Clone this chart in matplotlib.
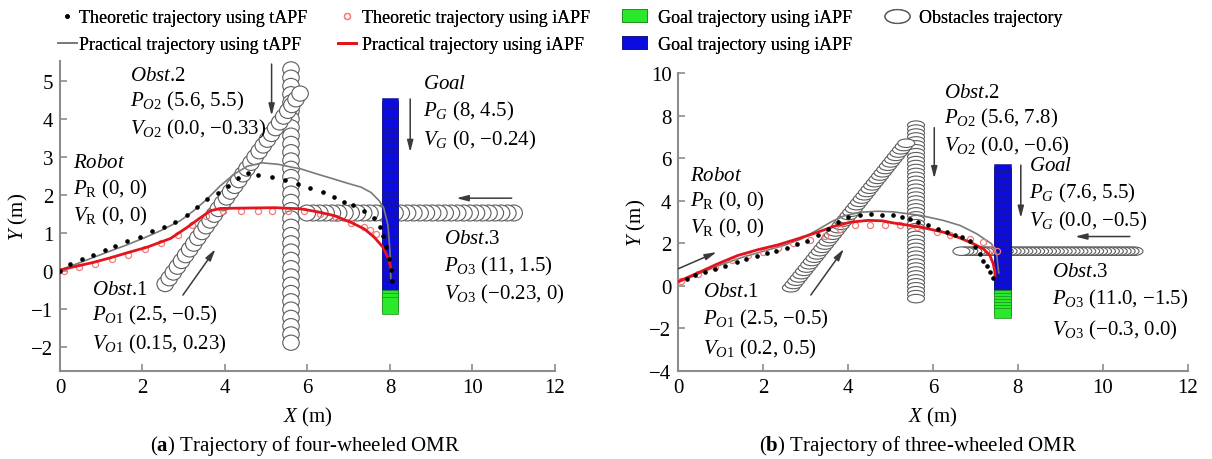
import numpy as np
import matplotlib
matplotlib.use("Agg")
import matplotlib.pyplot as plt
from matplotlib.patches import Circle, Rectangle, Patch
from matplotlib.lines import Line2D
from matplotlib.path import Path
from matplotlib.transforms import Affine2D

plt.rcParams.update({
    "font.family": "Liberation Serif",
    "mathtext.fontset": "custom",
    "mathtext.rm": "Liberation Serif",
    "mathtext.it": "Liberation Serif:italic",
    "mathtext.bf": "Liberation Serif:bold",
})

# ---------------- four-wheeled OMR (a) ----------------
a_theo_t_x = [0.0, 0.24, 0.53, 0.81, 1.09, 1.34, 1.62, 1.95, 2.23, 2.51, 2.80, 3.08, 3.33,
              3.57, 3.82, 4.08, 4.32, 4.55, 4.80, 5.13, 5.46, 5.76, 6.07, 6.37, 6.65, 6.89,
              7.10, 7.38, 7.62, 7.75, 7.83, 7.90, 7.97, 8.02, 8.05]
a_theo_t_y = [0.0, 0.18, 0.31, 0.41, 0.54, 0.66, 0.77, 0.90, 1.04, 1.16, 1.29, 1.47, 1.67,
              1.89, 2.05, 2.22, 2.44, 2.58, 2.52, 2.46, 2.39, 2.29, 2.17, 2.06, 1.94, 1.82,
              1.72, 1.58, 1.38, 1.14, 0.92, 0.62, 0.31, 0.02, -0.26]
a_prac_t_x = [0.0, 0.4, 0.81, 1.22, 1.62, 2.03, 2.43, 2.92, 3.24, 3.57, 3.89, 4.22, 4.54,
              4.90, 5.30, 5.60, 5.84, 6.25, 6.65, 6.98, 7.30, 7.54, 7.74, 7.85, 7.95, 8.00, 8.02]
a_prac_t_y = [0.02, 0.18, 0.35, 0.52, 0.68, 0.86, 1.05, 1.32, 1.58, 1.89, 2.24, 2.54, 2.75,
              2.84, 2.80, 2.73, 2.68, 2.54, 2.41, 2.30, 2.20, 2.06, 1.84, 1.65, 1.20, 0.50, -0.20]
a_prac_i_x = [0.0, 0.4, 0.81, 1.22, 1.62, 2.11, 2.68, 3.08, 3.41, 3.65, 3.89, 4.5, 5.2,
              5.84, 6.25, 6.65, 7.06, 7.38, 7.62, 7.83, 7.95, 8.03]
a_prac_i_y = [0.02, 0.12, 0.22, 0.34, 0.47, 0.62, 0.85, 1.14, 1.40, 1.58, 1.64, 1.65, 1.66,
              1.63, 1.55, 1.45, 1.27, 1.10, 0.88, 0.62, 0.35, 0.04]
a_theo_i_x = [0.1, 0.45, 0.85, 1.25, 1.65, 2.05, 2.45, 2.85, 3.2, 3.55, 3.95, 4.38, 4.79,
              5.15, 5.52, 5.92, 6.3, 6.7, 7.05, 7.38, 7.52, 7.66]
a_theo_i_y = [0.0, 0.1, 0.19, 0.3, 0.42, 0.56, 0.72, 0.93, 1.2, 1.45, 1.58, 1.58, 1.58,
              1.58, 1.58, 1.58, 1.5, 1.38, 1.25, 1.14, 1.08, 0.97]

# obstacles: start point, velocity; goal: start point, velocity
a_obst_start = [(2.55, -0.35), (5.6, 5.3), (11.0, 1.52)]
a_obst_vel = [(0.15, 0.23), (0.0, -0.33), (-0.23, 0.0)]
a_goal_start = (8.0, 4.32)
a_goal_vel = (0.0, -0.24)
a_duration = 21.8
a_steps = 34
a_goal_green_below = -0.73

# ---------------- three-wheeled OMR (b) ----------------
b_theo_t_x = [0.19, 0.39, 0.62, 0.86, 1.1, 1.37, 1.6, 1.85, 2.08, 2.31, 2.56, 2.8, 3.04,
              3.28, 3.52, 3.76, 4.0, 4.27, 4.53, 4.79, 5.06, 5.26, 5.46, 5.65, 5.89, 6.12,
              6.32, 6.52, 6.68, 6.87, 6.99, 7.11, 7.19, 7.27, 7.34, 7.42]
b_theo_t_y = [0.32, 0.5, 0.66, 0.8, 0.94, 1.1, 1.26, 1.4, 1.52, 1.64, 1.78, 1.95, 2.12,
              2.36, 2.68, 2.99, 3.23, 3.32, 3.37, 3.34, 3.31, 3.23, 3.12, 2.99, 2.84, 2.68,
              2.52, 2.39, 2.29, 2.08, 1.81, 1.5, 1.18, 0.92, 0.63, 0.35]
b_prac_t_x = [0.0, 0.5, 1.0, 1.5, 2.0, 2.5, 2.9, 3.3, 3.6, 3.9, 4.28, 4.7, 5.06, 5.69,
              6.24, 6.64, 7.03, 7.38, 7.5, 7.55]
b_prac_t_y = [0.15, 0.58, 0.98, 1.33, 1.62, 1.9, 2.2, 2.65, 3.0, 3.28, 3.45, 3.5, 3.47,
              3.31, 3.07, 2.83, 2.44, 1.97, 1.5, 0.6]
b_prac_i_x = [0.0, 0.46, 0.93, 1.4, 1.87, 2.35, 2.82, 3.29, 3.68, 4.07, 4.47, 4.8, 5.06,
              5.69, 6.24, 6.64, 6.95, 7.19, 7.34, 7.42, 7.46, 7.46]
b_prac_i_y = [0.2, 0.6, 1.03, 1.42, 1.69, 1.92, 2.21, 2.52, 2.8, 2.99, 3.07, 3.05, 2.95,
              2.76, 2.52, 2.24, 1.97, 1.73, 1.42, 1.03, 0.63, 0.4]
b_theo_i_x = [0.05, 0.45, 0.85, 1.25, 1.65, 2.0, 2.35, 2.71, 3.09, 3.45, 3.81, 4.15, 4.51,
              4.87, 5.22, 5.62, 6.09, 6.4, 6.87, 7.19, 7.38, 7.5]
b_theo_i_y = [0.2, 0.55, 0.9, 1.22, 1.45, 1.6, 1.77, 2.0, 2.13, 2.33, 2.68, 2.83, 2.87,
              2.85, 2.83, 2.76, 2.52, 2.36, 2.21, 2.05, 1.73, 1.65]

b_obst_start = [(2.65, -0.1), (5.6, 7.55), (10.75, 1.62)]
b_obst_vel = [(0.2, 0.5), (0.0, -0.6), (-0.3, 0.0)]
b_goal_start = (7.64, 5.5)
b_goal_vel = (0.0, -0.5)
b_duration = 13.6
b_steps = 45
b_goal_green_below = -0.4

legend_labels = ["Theoretic trajectory using tAPF", "Practical trajectory using tAPF",
                 "Theoretic trajectory using iAPF", "Practical trajectory using iAPF",
                 "Goal trajectory using iAPF", "Goal trajectory using iAPF",
                 "Obstacles trajectory"]

# ---------------- styles ----------------
OBST_EDGE = "#5c5c5c"
GREY_LINE = "#7a7a7a"
RED_LINE = "#e3141b"
PINK = "#f07c7c"
BLUE = "#0b0be0"
GREEN = "#2ae82a"
SPINE = "#8c8c8c"
ARROW = "#3a3a3a"
FS = 15


def draw_obstacles(ax, starts, vels, duration, steps, radius):
    t = np.linspace(0.0, duration, steps)
    for (x0, y0), (vx, vy) in zip(starts, vels):
        for ti in t:
            ax.add_patch(Circle((x0 + vx * ti, y0 + vy * ti), radius, fc="white",
                                ec=OBST_EDGE, lw=0.8, zorder=2))


def draw_goal(ax, start, vel, duration, steps, width, height, green_below):
    t = np.linspace(0.0, duration, steps)
    cy = start[1] + vel[1] * t
    cx = start[0] + vel[0] * t
    for x, y in zip(cx, cy):
        if y > green_below:
            ax.add_patch(Rectangle((x - width / 2, y - height / 2), width, height,
                                   fc=BLUE, ec="#1a1a7a", lw=0.4, zorder=3))
    for x, y in zip(cx, cy):
        if y <= green_below:
            ax.add_patch(Rectangle((x - width / 2, y - height / 2), width, height,
                                   fc=GREEN, ec="#1f8a1f", lw=0.5, zorder=3))


def draw_paths(ax, theo_t, prac_t, theo_i, prac_i):
    ax.plot(*prac_t, color=GREY_LINE, lw=1.2, zorder=5)
    ax.plot(*theo_i, ls="none", marker="o", ms=4.4, mfc="none", mec=PINK, mew=0.9, zorder=5)
    ax.plot(*prac_i, color=RED_LINE, lw=2.0, zorder=6)
    ax.plot(*theo_t, ls="none", marker="o", ms=2.3, color="black", zorder=7)


def arrow(ax, tail, head):
    ax.annotate("", xy=head, xytext=tail,
                arrowprops=dict(arrowstyle="-|>,head_length=0.7,head_width=0.18",
                                color=ARROW, lw=1.1, shrinkA=0, shrinkB=0), zorder=8)


def label_block(ax, x, ys, lines):
    for y, s in zip(ys, lines):
        ax.text(x, y, s, fontsize=FS, va="baseline", ha="left", zorder=9)


def style_axes(ax, xlim, ylim, yticks):
    ax.set_xlim(*xlim)
    ax.set_ylim(*ylim)
    ax.set_xticks(np.arange(0, 13, 2))
    ax.set_yticks(yticks)
    for s in ("top", "right"):
        ax.spines[s].set_visible(False)
    for s in ("left", "bottom"):
        ax.spines[s].set_color(SPINE)
        ax.spines[s].set_linewidth(1.5)
    ax.tick_params(direction="in", length=5, width=1.2, color=SPINE,
                   labelsize=FS, labelcolor="black", pad=5)
    ax.set_xlabel(r"$X$ (m)", fontsize=FS, labelpad=6)
    ax.set_ylabel(r"$Y$ (m)", fontsize=FS, labelpad=1)


fig = plt.figure(figsize=(12.12, 4.6), dpi=100)
ax_a = fig.add_axes([0.0495, 0.192, 0.4084, 0.674])
ax_b = fig.add_axes([0.5598, 0.192, 0.4200, 0.647])

# ---- panel (a)
style_axes(ax_a, (0, 12), (-2.63, 5.53), np.arange(-2, 6, 1))
draw_obstacles(ax_a, [a_obst_start[1]], [a_obst_vel[1]], a_duration, a_steps, 0.2)
draw_obstacles(ax_a, [a_obst_start[2]], [a_obst_vel[2]], a_duration, a_steps, 0.21)
draw_obstacles(ax_a, [a_obst_start[0]], [a_obst_vel[0]], a_duration, a_steps, 0.2)
draw_goal(ax_a, a_goal_start, a_goal_vel, a_duration, 60, 0.41, 0.46, a_goal_green_below)
draw_paths(ax_a, (a_theo_t_x, a_theo_t_y), (a_prac_t_x, a_prac_t_y),
           (a_theo_i_x, a_theo_i_y), (a_prac_i_x, a_prac_i_y))
arrow(ax_a, (5.13, 5.44), (5.13, 4.08))
arrow(ax_a, (8.49, 4.52), (8.49, 3.12))
arrow(ax_a, (10.95, 1.91), (9.61, 1.91))
arrow(ax_a, (2.98, -0.64), (3.77, 0.57))
label_block(ax_a, 1.70, [5.03, 4.36, 3.60],
            [r"$\mathit{Obst}$.2", r"$P_{O2}$ (5.6, 5.5)", r"$V_{O2}$ (0.0, −0.33)"])
label_block(ax_a, 0.32, [2.72, 2.04, 1.32],
            [r"$\mathit{Robot}$", r"$P_{\mathrm{R}}$ (0, 0)", r"$V_{\mathrm{R}}$ (0, 0)"])
label_block(ax_a, 0.78, [-0.61, -1.29, -2.04],
            [r"$\mathit{Obst}$.1", r"$P_{O1}$ (2.5, −0.5)", r"$V_{O1}$ (0.15, 0.23)"])
label_block(ax_a, 8.81, [4.80, 4.08, 3.33],
            [r"$\mathit{Goal}$", r"$P_{G}$ (8, 4.5)", r"$V_{G}$ (0, −0.24)"])
label_block(ax_a, 9.32, [0.73, 0.02, -0.73],
            [r"$\mathit{Obst}$.3", r"$P_{O3}$ (11, 1.5)", r"$V_{O3}$ (−0.23, 0)"])

# ---- panel (b)
style_axes(ax_b, (0, 12), (-4, 10), np.arange(-4, 11, 2))
draw_obstacles(ax_b, [b_obst_start[1]], [b_obst_vel[1]], b_duration, b_steps, 0.2)
draw_obstacles(ax_b, [b_obst_start[0]], [b_obst_vel[0]], b_duration, b_steps, 0.2)
draw_obstacles(ax_b, [b_obst_start[2]], [b_obst_vel[2]], b_duration, b_steps, 0.2)
draw_goal(ax_b, b_goal_start, b_goal_vel, b_duration, 50, 0.41, 0.48, b_goal_green_below)
draw_paths(ax_b, (b_theo_t_x, b_theo_t_y), (b_prac_t_x, b_prac_t_y),
           (b_theo_i_x, b_theo_i_y), (b_prac_i_x, b_prac_i_y))
arrow(ax_b, (0.0, 0.8), (0.9, 1.58))
arrow(ax_b, (3.12, -0.44), (3.9, 1.73))
arrow(ax_b, (6.03, 7.43), (6.03, 5.04))
arrow(ax_b, (8.07, 5.67), (8.07, 3.18))
arrow(ax_b, (10.64, 2.31), (9.35, 2.31))
label_block(ax_b, 0.27, [4.99, 3.76, 2.49],
            [r"$\mathit{Robot}$", r"$P_{\mathrm{R}}$ (0, 0)", r"$V_{\mathrm{R}}$ (0, 0)"])
label_block(ax_b, 0.57, [-0.49, -1.76, -3.18],
            [r"$\mathit{Obst}$.1", r"$P_{O1}$ (2.5, −0.5)", r"$V_{O1}$ (0.2, 0.5)"])
label_block(ax_b, 6.27, [8.87, 7.69, 6.36],
            [r"$\mathit{Obst}$.2", r"$P_{O2}$ (5.6, 7.8)", r"$V_{O2}$ (0.0, −0.6)"])
label_block(ax_b, 8.26, [5.42, 4.14, 2.82],
            [r"$\mathit{Goal}$", r"$P_{G}$ (7.6, 5.5)", r"$V_{G}$ (0.0, −0.5)"])
label_block(ax_b, 8.80, [0.46, -0.86, -2.28],
            [r"$\mathit{Obst}$.3", r"$P_{O3}$ (11.0, −1.5)", r"$V_{O3}$ (−0.3, 0.0)"])

# ---- captions
fig.text(0.2517, 0.030, r"($\mathbf{a}$) Trajectory of four-wheeled OMR",
         fontsize=15, ha="center", va="center")
fig.text(0.7574, 0.030, r"($\mathbf{b}$) Trajectory of three-wheeled OMR",
         fontsize=15, ha="center", va="center")

# ---- legend (four columns)
ellipse = Path.unit_circle().transformed(Affine2D().scale(1.0, 0.55))
h_theo_t = Line2D([], [], ls="none", marker="o", ms=2.3, color="black")
h_prac_t = Line2D([], [], color=GREY_LINE, lw=1.3)
h_theo_i = Line2D([], [], ls="none", marker="o", ms=4.4, mfc="none", mec=PINK, mew=0.9)
h_prac_i = Line2D([], [], color=RED_LINE, lw=2.0)
h_goal_g = Patch(fc=GREEN, ec="#1f8a1f", lw=0.6)
h_goal_b = Patch(fc=BLUE, ec="#1a1a7a", lw=0.6)
h_obst = Line2D([], [], ls="none", marker=ellipse, ms=18, mfc="white", mec=OBST_EDGE, mew=1.0)

leg_common = dict(loc="upper left", frameon=False, borderpad=0, borderaxespad=0,
                  fontsize=13, labelspacing=0.55, handleheight=0.7)
columns = [
    ([h_theo_t, h_prac_t], legend_labels[0:2], 58, 1.05, 0.1),
    ([h_theo_i, h_prac_i], legend_labels[2:4], 338, 1.0, 0.33),
    ([h_goal_g, h_goal_b], legend_labels[4:6], 622, 1.4, 0.6),
    ([h_obst], legend_labels[6:7], 884, 1.45, 0.5),
]
for handles, labels, x0, hl, tp in columns:
    fig.add_artist(fig.legend(handles, labels, bbox_to_anchor=(x0 / 1212, 1 - 10 / 460),
                              handlelength=hl, handletextpad=tp, **leg_common))

fig.savefig("out.png", dpi=100)
